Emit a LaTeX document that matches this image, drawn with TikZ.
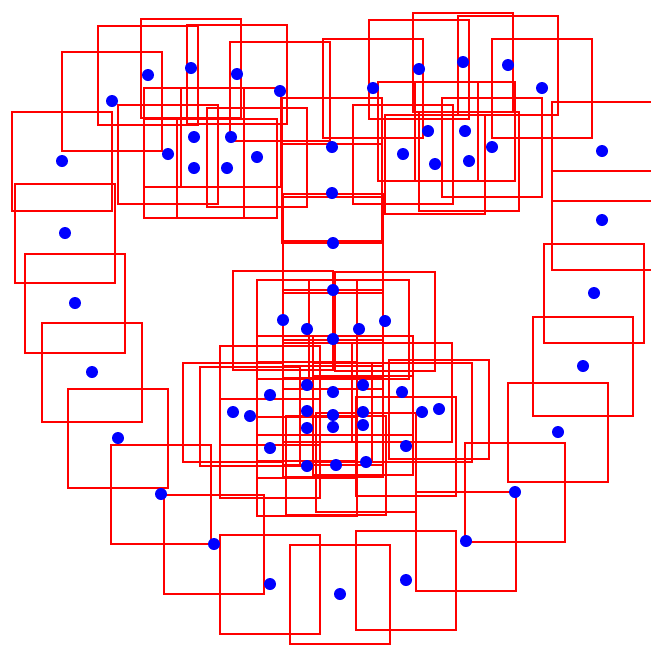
\documentclass[tikz,border=0pt]{standalone}
\usepackage{tikz}
\usetikzlibrary{positioning}
\begin{document}
\begin{tikzpicture}[x=1pt,y=-1pt,
patch/.style={draw=red,line width=2pt,minimum width=100pt,minimum height=99pt,inner sep=0pt},
lmk/.style={circle,fill=blue,inner sep=0pt,minimum size=12pt}]
\useasboundingbox(0,0)rectangle(651,646);
\def\landmarks{62/161,65/233,75/303,92/372,118/438,161/494,214/544,270/584,340/594,406/580,466/541,515/492,558/432,583/366,594/293,602/220,602/151,
112/101,148/75,191/68,237/74,280/91,373/88,419/69,463/62,508/65,542/88,
332/147,332/193,333/243,333/290,283/320,307/329,333/339,359/329,385/321,
168/154,194/137,231/137,257/157,227/168,194/168,403/154,428/131,465/131,492/147,469/161,435/164,
233/412,270/395,307/385,333/392,363/385,402/392,439/409,406/446,366/462,336/465,307/466,270/448,
250/416,307/411,333/415,363/412,422/412,363/425,333/427,307/428}
\foreach \x/\y [count=\i from 0] in \landmarks {\node[patch](b\i)at(\x,\y){};}
\foreach \x/\y [count=\i from 0] in \landmarks {\node[lmk](p\i)at(\x,\y){};}
\end{tikzpicture}
\end{document}
